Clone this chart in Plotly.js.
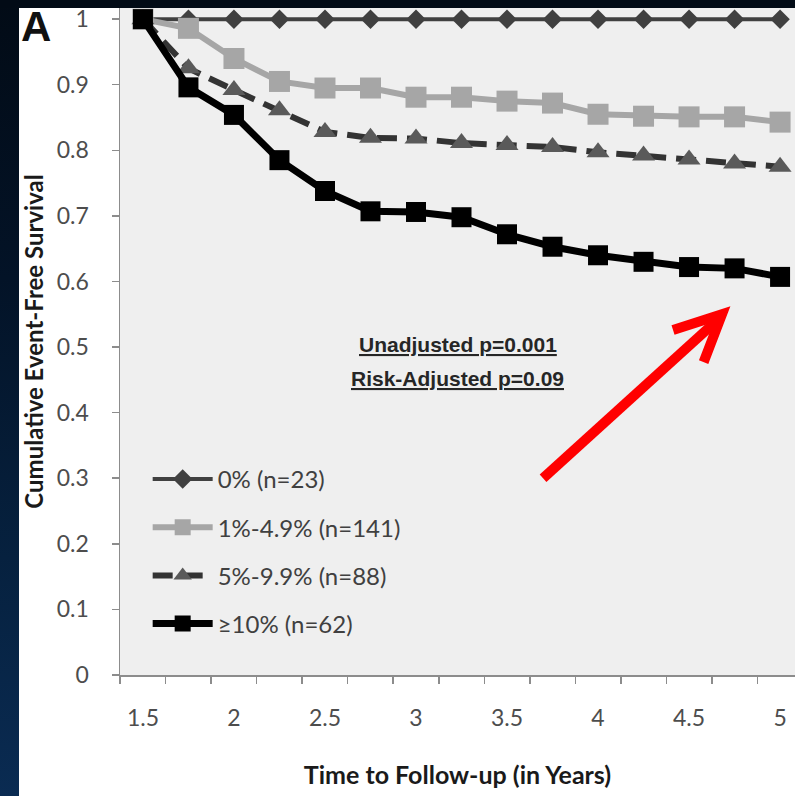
<!DOCTYPE html>
<html>
<head>
<meta charset="utf-8">
<script src="https://cdn.plot.ly/plotly-3.0.1.min.js"></script>
<style>
  html, body { margin: 0; padding: 0; width: 795px; height: 796px; overflow: hidden;
    background: linear-gradient(to bottom, #020b16 0%, #031327 35%, #06213f 70%, #0a2b52 100%); }
  #chart { position: absolute; left: 19px; top: 0px; width: 776px; height: 796px; }
  #topstrip { position: absolute; left: 0; top: 0; width: 795px; height: 8px; background: #020b16; z-index: 10; }
</style>
</head>
<body>
<div id="chart"></div>
<div id="topstrip"></div>
<script>
// ---- data ----
const years = [1.5, 1.75, 2.0, 2.25, 2.5, 2.75, 3.0, 3.25, 3.5, 3.75, 4.0, 4.25, 4.5, 4.75, 5.0];
const seriesNames = ["0% (n=23)", "1%-4.9% (n=141)", "5%-9.9% (n=88)", "≥10% (n=62)"];
const surv0 = [1, 1, 1, 1, 1, 1, 1, 1, 1, 1, 1, 1, 1, 1, 1];
const surv1to49 = [1.0, 0.986, 0.940, 0.905, 0.895, 0.895, 0.881, 0.881, 0.875, 0.872, 0.855, 0.852, 0.851, 0.851, 0.843];
const surv5to99 = [1.0, 0.925, 0.892, 0.861, 0.828, 0.819, 0.818, 0.811, 0.808, 0.805, 0.797, 0.792, 0.786, 0.780, 0.775];
const surv10plus = [1.0, 0.896, 0.854, 0.785, 0.738, 0.707, 0.706, 0.698, 0.672, 0.653, 0.640, 0.630, 0.622, 0.620, 0.607];
const xTickVals = [1.5, 2, 2.5, 3, 3.5, 4, 4.5, 5];
const xTickText = ["1.5", "2", "2.5", "3", "3.5", "4", "4.5", "5"];
const yTickVals = [0, 0.1, 0.2, 0.3, 0.4, 0.5, 0.6, 0.7, 0.8, 0.9, 1];
const yTickText = ["0", "0.1", "0.2", "0.3", "0.4", "0.5", "0.6", "0.7", "0.8", "0.9", "1"];
const pLines = ["Unadjusted p=0.001", "Risk-Adjusted p=0.09"];

// category boundaries (Excel-style tick marks between categories)
const half = (years[1] - years[0]) / 2;
const boundaries = years.map(v => v - half).concat([years[years.length - 1] + half]);

const traces = [
  { x: years, y: surv0, name: seriesNames[0], mode: "lines+markers", legendgroup: "a",
    line: { color: "#404040", width: 4 }, marker: { symbol: "diamond", size: 15, color: "#404040" } },
  { x: years, y: surv1to49, name: seriesNames[1], mode: "lines+markers", legendgroup: "b",
    line: { color: "#a6a6a6", width: 6 }, marker: { symbol: "square", size: 21, color: "#a6a6a6" } },
  { x: years, y: surv5to99, name: seriesNames[2], mode: "lines+markers", legendgroup: "c",
    line: { color: "#333333", width: 6, dash: "20px,10px" }, marker: { symbol: "triangle-up", size: 20, color: "#5a5a5a" } },
  { x: years, y: surv10plus, name: seriesNames[3], mode: "lines+markers", legendgroup: "d",
    line: { color: "#000000", width: 7 }, marker: { symbol: "square", size: 20, color: "#000000" } }
];

const tickFont = { family: "Lato, 'Open Sans', sans-serif", size: 23, color: "#4d4d4d" };

const layout = {
  width: 776, height: 796,
  margin: { l: 101, r: 0, t: 8, b: 121 },
  paper_bgcolor: "#ffffff",
  plot_bgcolor: "#efefef",
  showlegend: true,
  legend: {
    x: 0.041, y: 0.327, xanchor: "left", yanchor: "top",
    bgcolor: "rgba(0,0,0,0)", tracegroupgap: 14, itemwidth: 60,
    font: { family: "Lato, 'Open Sans', sans-serif", size: 24, color: "#404040" }
  },
  xaxis: {
    range: [1.374, 5.082], fixedrange: true,
    tickmode: "array", tickvals: xTickVals, ticktext: xTickText,
    ticks: "", ticklabelstandoff: 22, tickfont: tickFont,
    showgrid: false, zeroline: false,
    showline: true, linecolor: "#8c8c8c", linewidth: 1.5,
    minor: { tickmode: "array", tickvals: boundaries, ticks: "outside", ticklen: 7, tickcolor: "#8c8c8c", tickwidth: 1.5, showgrid: false },
    title: { text: "<b>Time to Follow-up (in Years)</b>", standoff: 36,
      font: { family: "Lato, 'Open Sans', sans-serif", size: 25, color: "#1a1a1a" } }
  },
  yaxis: {
    range: [0, 1.017], fixedrange: true,
    tickmode: "array", tickvals: yTickVals, ticktext: yTickText,
    ticks: "outside", ticklen: 7, tickcolor: "#8c8c8c", tickwidth: 1.5,
    ticklabelstandoff: 18, tickfont: tickFont,
    showgrid: false, zeroline: false,
    showline: true, linecolor: "#8c8c8c", linewidth: 1.5,
    title: { text: "<b>Cumulative Event-Free Survival</b>", standoff: 14,
      font: { family: "Lato, 'Open Sans', sans-serif", size: 24, color: "#1a1a1a" } }
  },
  annotations: [
    { xref: "paper", yref: "paper", x: -0.148, y: 0.973, xanchor: "left", yanchor: "middle",
      text: "<b>A</b>", showarrow: false, borderpad: 0,
      font: { family: "Liberation Sans, Arial, sans-serif", size: 42, color: "#111111" } },
    { xref: "paper", yref: "paper", x: 0.5, y: 0.495, xanchor: "center", yanchor: "middle",
      text: "<b><u>" + pLines[0] + "</u></b>", showarrow: false,
      font: { family: "Liberation Sans, Arial, sans-serif", size: 21, color: "#262626" } },
    { xref: "paper", yref: "paper", x: 0.5, y: 0.445, xanchor: "center", yanchor: "middle",
      text: "<b><u>" + pLines[1] + "</u></b>", showarrow: false,
      font: { family: "Liberation Sans, Arial, sans-serif", size: 21, color: "#262626" } }
  ],
  shapes: [
    { type: "line", xref: "x", yref: "y", x0: 3.698, y0: 0.300, x1: 4.675, y1: 0.546,
      line: { color: "#ff0000", width: 10 } },
    { type: "path", xref: "x", yref: "y",
      path: "M 4.412,0.526 L 4.681,0.550 L 4.580,0.477",
      line: { color: "#ff0000", width: 10 } }
  ]
};

Plotly.newPlot("chart", traces, layout, { displayModeBar: false, staticPlot: true });
</script>
</body>
</html>
